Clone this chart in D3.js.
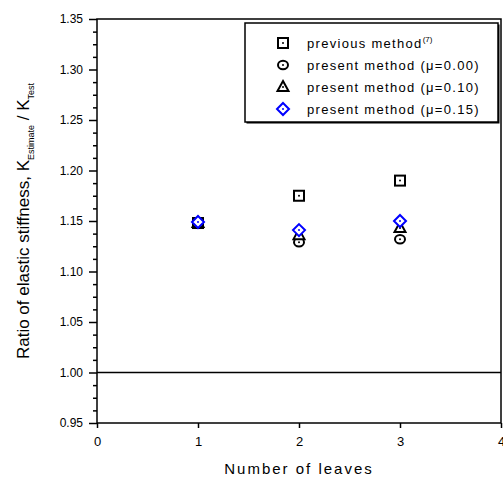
<!doctype html>
<html lang="en">
<head>
    <meta charset="utf-8">
    <title>Ratio of elastic stiffness</title>
    <style>
        body { margin: 0; background: #fff; }
        svg text { font-family: "Liberation Sans", Arial, sans-serif; fill: #000; }
    </style>
</head>
<body>
    <div id="chart"></div>
    <script src="https://cdnjs.cloudflare.com/ajax/libs/d3/7.8.5/d3.min.js"></script>
    <script>
        // data
        const leaves = [1, 2, 3];
        const previousMethod = [1.148, 1.175, 1.190];
        const mu000 = [1.148, 1.129, 1.132];
        const mu010 = [1.148, 1.136, 1.143];
        const mu015 = [1.149, 1.141, 1.150];

        const xTicks = [0, 1, 2, 3, 4];
        const yTicks = [0.95, 1.00, 1.05, 1.10, 1.15, 1.20, 1.25, 1.30, 1.35];
        const refLine = 1.00;

        const width = 503;
        const height = 482;
        const margin = { top: 19, right: 2, bottom: 59, left: 97 };

        const svg = d3.select("#chart").append("svg")
            .attr("width", width).attr("height", height);

        const x = d3.scaleLinear().domain([0, 4]).range([margin.left, width - margin.right]);
        const y = d3.scaleLinear().domain([0.95, 1.35]).range([height - margin.bottom, margin.top]);

        // minor y ticks
        const minor = d3.range(0.95, 1.3501, 0.0125).filter(v => !yTicks.some(t => Math.abs(t - v) < 1e-6));
        svg.append("g")
            .attr("transform", `translate(${margin.left},0)`)
            .call(d3.axisLeft(y).tickValues(minor).tickSize(4).tickFormat(""))
            .call(g => g.select(".domain").remove())
            .selectAll("line").attr("stroke-width", 1.5);

        // major y ticks
        svg.append("g")
            .attr("transform", `translate(${margin.left},0)`)
            .call(d3.axisLeft(y).tickValues(yTicks).tickSize(8).tickPadding(6).tickFormat(d3.format(".2f")))
            .call(g => g.select(".domain").remove())
            .call(g => g.selectAll("line").attr("stroke-width", 1.5))
            .call(g => g.selectAll("text").attr("font-size", 12).attr("font-family", "Liberation Sans, Arial, sans-serif"));

        // x ticks
        svg.append("g")
            .attr("transform", `translate(0,${y(0.95)})`)
            .call(d3.axisBottom(x).tickValues(xTicks).tickSize(5).tickPadding(9).tickFormat(d3.format("d")))
            .call(g => g.select(".domain").remove())
            .call(g => g.selectAll("line").attr("stroke-width", 1.5))
            .call(g => g.selectAll("text").attr("font-size", 13).attr("font-family", "Liberation Sans, Arial, sans-serif"));

        // frame
        svg.append("rect")
            .attr("x", x(0)).attr("y", y(1.35))
            .attr("width", x(4) - x(0)).attr("height", y(0.95) - y(1.35))
            .attr("fill", "none").attr("stroke", "#000").attr("stroke-width", 1.5);

        // reference line at 1.00
        svg.append("line")
            .attr("x1", x(0)).attr("x2", x(4))
            .attr("y1", y(refLine)).attr("y2", y(refLine))
            .attr("stroke", "#000").attr("stroke-width", 1.5);

        // symbol drawing
        function drawSymbol(g, type, color) {
            if (type === "square") {
                g.append("rect").attr("x", -5).attr("y", -5).attr("width", 10).attr("height", 10);
            } else if (type === "circle") {
                g.append("ellipse").attr("rx", 5).attr("ry", 4.3);
            } else if (type === "triangle") {
                g.append("path").attr("d", "M0,-6L5.5,4L-5.5,4Z");
            } else {
                g.append("path").attr("d", "M0,-6L6,0L0,6L-6,0Z");
            }
            g.selectAll("rect,ellipse,path")
                .attr("fill", "#fff").attr("stroke", color).attr("stroke-width", 2);
            g.append("circle").attr("r", 1).attr("fill", color);
        }

        const series = [
            { name: "previous method", sup: "(7)", values: previousMethod, type: "square", color: "#000" },
            { name: "present method (\u03bc=0.00)", values: mu000, type: "circle", color: "#000" },
            { name: "present method (\u03bc=0.10)", values: mu010, type: "triangle", color: "#000" },
            { name: "present method (\u03bc=0.15)", values: mu015, type: "diamond", color: "#0000ff" }
        ];

        series.forEach(s => {
            svg.append("g").selectAll("g")
                .data(leaves.map((l, i) => [l, s.values[i]]))
                .join("g")
                .attr("transform", d => `translate(${x(d[0])},${y(d[1])})`)
                .each(function () { drawSymbol(d3.select(this), s.type, s.color); });
        });

        // legend
        const legend = svg.append("g").attr("transform", "translate(245,23)");
        legend.append("rect")
            .attr("x", 1.5).attr("y", 1.5).attr("width", 253).attr("height", 99)
            .attr("fill", "#000");
        legend.append("rect")
            .attr("width", 253).attr("height", 99)
            .attr("fill", "#fff").attr("stroke", "#000").attr("stroke-width", 1.5);

        series.forEach((s, i) => {
            const row = legend.append("g").attr("transform", `translate(38,${20 + i * 22})`);
            drawSymbol(row.append("g"), s.type, s.color);
            const t = row.append("text")
                .attr("x", 24).attr("dy", "0.35em")
                .attr("font-size", 13).attr("letter-spacing", 1.3)
                .text(s.name);
            if (s.sup) {
                t.append("tspan").attr("dy", -6).attr("font-size", 8).attr("letter-spacing", 0).text(s.sup);
            }
        });

        // axis titles
        svg.append("text")
            .attr("x", (x(0) + x(4)) / 2).attr("y", 474)
            .attr("text-anchor", "middle")
            .attr("font-size", 15).attr("letter-spacing", 2)
            .text("Number of leaves");

        const yTitle = svg.append("text")
            .attr("transform", `translate(29,${(y(0.95) + y(1.35)) / 2}) rotate(-90)`)
            .attr("text-anchor", "middle")
            .attr("font-size", 17);
        yTitle.append("tspan").text("Ratio of elastic stiffness,  K");
        yTitle.append("tspan").attr("font-size", 9).attr("dy", 5).text("Estimate");
        yTitle.append("tspan").attr("dy", -5).text(" / K");
        yTitle.append("tspan").attr("font-size", 9).attr("dy", 5).text("Test");
    </script>
</body>
</html>
